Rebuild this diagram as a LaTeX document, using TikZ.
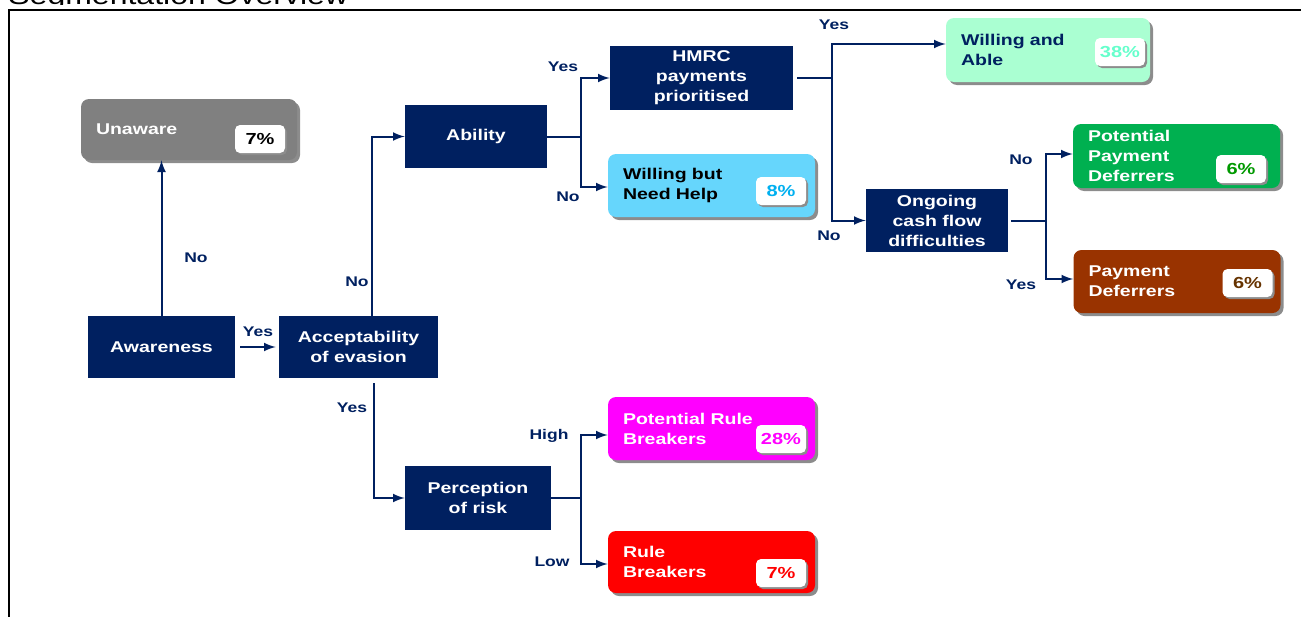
\documentclass[tikz,border=0pt]{standalone}
\usepackage{fontspec}
\setmainfont[FakeStretch=1.25]{Liberation Sans}
\usepackage{tikz}
\usetikzlibrary{arrows, positioning, shapes, shadows}
\definecolor{navy}{HTML}{002060}
\definecolor{segGray}{HTML}{808080}
\definecolor{segSky}{HTML}{66D6FC}
\definecolor{segSkyText}{HTML}{00B0F0}
\definecolor{segMint}{HTML}{AAFFD2}
\definecolor{segMintText}{HTML}{66FFCC}
\definecolor{segGreen}{HTML}{00B050}
\definecolor{segGreenText}{HTML}{009900}
\definecolor{segBrown}{HTML}{993300}
\definecolor{segBrownText}{HTML}{663300}
\definecolor{segPink}{HTML}{FF00FF}
\definecolor{segRed}{HTML}{FF0000}
\tikzset{
	decision/.style={fill=navy, text=white, font=\bfseries\fontsize{7.8}{10}\selectfont, align=center, inner sep=0pt},
	segment/.style={rounded corners=4pt, font=\bfseries\fontsize{7.8}{10}\selectfont, align=left, inner xsep=7.5pt, inner ysep=0pt, text width=88.5pt, minimum height=31.5pt, drop shadow={shadow xshift=1.5pt, shadow yshift=-1.5pt, opacity=1, fill=black!45}},
	pct/.style={fill=white, rounded corners=2.5pt, minimum width=25pt, minimum height=14pt, inner sep=0pt, font=\bfseries\fontsize{8}{10}\selectfont, drop shadow={shadow xshift=1pt, shadow yshift=-1pt, opacity=1, fill=black!45}},
	answer/.style={text=navy, font=\bfseries\fontsize{7}{8}\selectfont, inner sep=0pt},
	link/.style={draw=navy, line width=1pt, -latex},
	stem/.style={draw=navy, line width=1pt}
}

\begin{document}
\begin{tikzpicture}[x=0.5pt, y=-0.5pt]
		\useasboundingbox (0,0) rectangle (1301,616);
		%title and frame
		\begin{scope}
			\clip (0,0) rectangle (420,4.5);
			\node[anchor=base west, inner sep=0pt, font=\fontsize{12.8}{15}\selectfont] (title) at (8,4) {Segmentation Overview};
		\end{scope}
		\draw[line width=1pt] (9,640) -- (9,10) -- (1320,10);

		%decision boxes:
		\node[decision, minimum width=73.5pt, minimum height=31pt] (awareness) at (161.5,347) {Awareness};
		\node[decision, minimum width=79.5pt, minimum height=31pt] (accept) at (358.5,347) {Acceptability\\of evasion};
		\node[decision, minimum width=71pt, minimum height=31.5pt] (ability) at (476,136.5) {Ability};
		\node[decision, minimum width=91.5pt, minimum height=32pt] (hmrc) at (701.5,78) {HMRC\\payments\\prioritised};
		\node[decision, minimum width=71pt, minimum height=31.5pt] (ongoing) at (937,220.5) {Ongoing\\cash flow\\difficulties};
		\node[decision, minimum width=73pt, minimum height=32pt] (risk) at (478,498) {Perception\\of risk};

		%segments:
		\node[segment, fill=segGray, text=white, text width=93pt, minimum height=30.5pt, drop shadow={opacity=0}] (unaware) at (189,129.5) {Unaware};
		\node[segment, fill=segSky, text=black] (needhelp) at (711.5,185.5) {Willing but\\Need Help};
		\node[segment, fill=segMint, text=navy, text width=87pt, minimum height=32pt] (able) at (1048,50) {Willing and\\Able};
		\node[segment, fill=segGreen, text=white, minimum height=32pt] (ppd) at (1176.5,156) {Potential\\Payment\\Deferrers};
		\node[segment, fill=segBrown, text=white] (pd) at (1177,281.5) {Payment\\Deferrers};
		\node[segment, fill=segPink, text=white] (prb) at (711.5,428.5) {Potential Rule\\Breakers};
		\node[segment, fill=segRed, text=white, minimum height=31pt] (rb) at (711.5,562) {Rule\\Breakers};

		%percentages
		\node[pct, anchor=south east, text=black] (unaware-pct) at ([shift={(-12,-7)}]unaware.south east) {7\%};
		\node[pct, anchor=south east, text=segSkyText] (needhelp-pct) at ([shift={(-9,-12)}]needhelp.south east) {8\%};
		\node[pct, anchor=south east, text=segMintText] (able-pct) at ([shift={(-5,-16)}]able.south east) {38\%};
		\node[pct, anchor=south east, text=segGreenText] (ppd-pct) at ([shift={(-14,-5)}]ppd.south east) {6\%};
		\node[pct, anchor=south east, text=segBrownText] (pd-pct) at ([shift={(-8,-16)}]pd.south east) {6\%};
		\node[pct, anchor=south east, text=segPink] (prb-pct) at ([shift={(-9,-7)}]prb.south east) {28\%};
		\node[pct, anchor=south east, text=segRed] (rb-pct) at ([shift={(-9,-6)}]rb.south east) {7\%};

		%connectors:
		\draw[link] (awareness.north) -- (awareness.north |- unaware.south);
		\draw[link] ([shift={(5,0)}]awareness.east) -- ([shift={(-3,0)}]accept.west);
		\draw[link] ([shift={(13.5,0)}]accept.north) |- (ability);
		\draw[link] ([shift={(15.5,5)}]accept.south) |- (risk);

		\draw[stem] (ability.east) -- ++(34,0) coordinate (abfork);
		\draw[link] (abfork) |- (hmrc);
		\draw[link] (abfork) |- ([shift={(0,1.5)}]needhelp.west);

		\draw[stem] ([shift={(4,0)}]hmrc.east) -- ++(35,0) coordinate (hmfork);
		\draw[link] (hmfork) |- ([shift={(0,-6)}]able.west);
		\draw[link] (hmfork) |- (ongoing);

		\draw[stem] ([shift={(3,0)}]ongoing.east) -- ++(35,0) coordinate (ogfork);
		\draw[link] (ogfork) |- ([shift={(0,-2)}]ppd.west);
		\draw[link] (ogfork) |- ([shift={(0,-2.5)}]pd.west);

		\draw[stem] (risk.east) -- ++(30,0) coordinate (rkfork);
		\draw[link] (rkfork) |- ([shift={(0,6.5)}]prb.west);
		\draw[link] (rkfork) |- ([shift={(0,2)}]rb.west);

		%answers
		\node[answer] (no-aware) at (196,258) {No};
		\node[answer] (yes-aware) at (258,332) {Yes};
		\node[answer] (no-accept) at (357,282) {No};
		\node[answer] (yes-accept) at (352,408) {Yes};
		\node[answer] (yes-ability) at (563,67) {Yes};
		\node[answer] (no-ability) at (568,197) {No};
		\node[answer] (yes-hmrc) at (834,25) {Yes};
		\node[answer] (no-hmrc) at (829,236) {No};
		\node[answer] (no-ongoing) at (1021,160) {No};
		\node[answer] (yes-ongoing) at (1021,285) {Yes};
		\node[answer] (high-risk) at (549,436) {High};
		\node[answer] (low-risk) at (552,562) {Low};
\end{tikzpicture}
\end{document}
